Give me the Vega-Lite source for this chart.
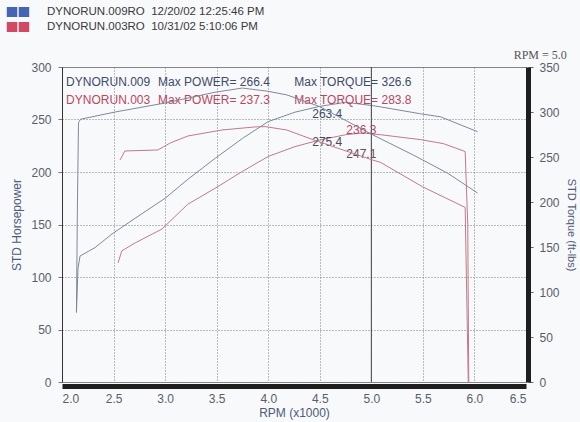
{
  "$schema": "https://vega.github.io/schema/vega-lite/v6.json",
  "width": 464,
  "height": 315,
  "autosize": {"type": "none"},
  "padding": {"left": 62, "top": 67, "right": 54, "bottom": 40},
  "background": "#f8f9fb",
  "config": {
    "font": "Liberation Sans",
    "view": {"stroke": "#8a8a8a", "strokeWidth": 1},
    "axis": {
      "labelFont": "Liberation Sans",
      "labelFontSize": 12,
      "labelColor": "#585e6a",
      "titleFont": "Liberation Sans",
      "titleFontWeight": "normal",
      "titleColor": "#4d5a7a",
      "gridColor": "#7a7a7a",
      "gridDash": [1, 2],
      "gridWidth": 1
    }
  },
  "datasets": {
    "power": [
      {"run": "DYNORUN.009RO\u00a0\u00a012/20/02 12:25:46 PM", "rpm": 2.14, "hp": 66},
      {"run": "DYNORUN.009RO\u00a0\u00a012/20/02 12:25:46 PM", "rpm": 2.155, "hp": 108},
      {"run": "DYNORUN.009RO\u00a0\u00a012/20/02 12:25:46 PM", "rpm": 2.175, "hp": 120},
      {"run": "DYNORUN.009RO\u00a0\u00a012/20/02 12:25:46 PM", "rpm": 2.32, "hp": 128},
      {"run": "DYNORUN.009RO\u00a0\u00a012/20/02 12:25:46 PM", "rpm": 2.485, "hp": 141},
      {"run": "DYNORUN.009RO\u00a0\u00a012/20/02 12:25:46 PM", "rpm": 2.71, "hp": 156},
      {"run": "DYNORUN.009RO\u00a0\u00a012/20/02 12:25:46 PM", "rpm": 3.0, "hp": 175},
      {"run": "DYNORUN.009RO\u00a0\u00a012/20/02 12:25:46 PM", "rpm": 3.22, "hp": 193},
      {"run": "DYNORUN.009RO\u00a0\u00a012/20/02 12:25:46 PM", "rpm": 3.485, "hp": 213},
      {"run": "DYNORUN.009RO\u00a0\u00a012/20/02 12:25:46 PM", "rpm": 3.75, "hp": 232},
      {"run": "DYNORUN.009RO\u00a0\u00a012/20/02 12:25:46 PM", "rpm": 4.0, "hp": 248},
      {"run": "DYNORUN.009RO\u00a0\u00a012/20/02 12:25:46 PM", "rpm": 4.26, "hp": 257},
      {"run": "DYNORUN.009RO\u00a0\u00a012/20/02 12:25:46 PM", "rpm": 4.5, "hp": 262.5},
      {"run": "DYNORUN.009RO\u00a0\u00a012/20/02 12:25:46 PM", "rpm": 4.75, "hp": 266.4},
      {"run": "DYNORUN.009RO\u00a0\u00a012/20/02 12:25:46 PM", "rpm": 5.0, "hp": 263.4},
      {"run": "DYNORUN.009RO\u00a0\u00a012/20/02 12:25:46 PM", "rpm": 5.09, "hp": 262},
      {"run": "DYNORUN.009RO\u00a0\u00a012/20/02 12:25:46 PM", "rpm": 5.48, "hp": 255.4},
      {"run": "DYNORUN.009RO\u00a0\u00a012/20/02 12:25:46 PM", "rpm": 5.67, "hp": 252.6},
      {"run": "DYNORUN.009RO\u00a0\u00a012/20/02 12:25:46 PM", "rpm": 6.03, "hp": 238.4},
      {"run": "DYNORUN.003RO\u00a0\u00a010/31/02 5:10:06 PM", "rpm": 2.544, "hp": 113.5},
      {"run": "DYNORUN.003RO\u00a0\u00a010/31/02 5:10:06 PM", "rpm": 2.58, "hp": 124.9},
      {"run": "DYNORUN.003RO\u00a0\u00a010/31/02 5:10:06 PM", "rpm": 2.71, "hp": 132.5},
      {"run": "DYNORUN.003RO\u00a0\u00a010/31/02 5:10:06 PM", "rpm": 2.97, "hp": 145.7},
      {"run": "DYNORUN.003RO\u00a0\u00a010/31/02 5:10:06 PM", "rpm": 3.22, "hp": 169.3},
      {"run": "DYNORUN.003RO\u00a0\u00a010/31/02 5:10:06 PM", "rpm": 3.485, "hp": 184.5},
      {"run": "DYNORUN.003RO\u00a0\u00a010/31/02 5:10:06 PM", "rpm": 3.75, "hp": 200.6},
      {"run": "DYNORUN.003RO\u00a0\u00a010/31/02 5:10:06 PM", "rpm": 4.0, "hp": 214.8},
      {"run": "DYNORUN.003RO\u00a0\u00a010/31/02 5:10:06 PM", "rpm": 4.26, "hp": 224.2},
      {"run": "DYNORUN.003RO\u00a0\u00a010/31/02 5:10:06 PM", "rpm": 4.5, "hp": 230.5},
      {"run": "DYNORUN.003RO\u00a0\u00a010/31/02 5:10:06 PM", "rpm": 4.75, "hp": 235.5},
      {"run": "DYNORUN.003RO\u00a0\u00a010/31/02 5:10:06 PM", "rpm": 4.93, "hp": 237.3},
      {"run": "DYNORUN.003RO\u00a0\u00a010/31/02 5:10:06 PM", "rpm": 5.0, "hp": 236.3},
      {"run": "DYNORUN.003RO\u00a0\u00a010/31/02 5:10:06 PM", "rpm": 5.09, "hp": 235.5},
      {"run": "DYNORUN.003RO\u00a0\u00a010/31/02 5:10:06 PM", "rpm": 5.48, "hp": 230.8},
      {"run": "DYNORUN.003RO\u00a0\u00a010/31/02 5:10:06 PM", "rpm": 5.7, "hp": 227},
      {"run": "DYNORUN.003RO\u00a0\u00a010/31/02 5:10:06 PM", "rpm": 5.91, "hp": 219.5},
      {"run": "DYNORUN.003RO\u00a0\u00a010/31/02 5:10:06 PM", "rpm": 5.935, "hp": 150},
      {"run": "DYNORUN.003RO\u00a0\u00a010/31/02 5:10:06 PM", "rpm": 5.945, "hp": 0}
    ],
    "torque": [
      {"run": "DYNORUN.009RO\u00a0\u00a012/20/02 12:25:46 PM", "rpm": 2.14, "tq": 78},
      {"run": "DYNORUN.009RO\u00a0\u00a012/20/02 12:25:46 PM", "rpm": 2.15, "tq": 200},
      {"run": "DYNORUN.009RO\u00a0\u00a012/20/02 12:25:46 PM", "rpm": 2.16, "tq": 288},
      {"run": "DYNORUN.009RO\u00a0\u00a012/20/02 12:25:46 PM", "rpm": 2.18, "tq": 292},
      {"run": "DYNORUN.009RO\u00a0\u00a012/20/02 12:25:46 PM", "rpm": 2.515, "tq": 300},
      {"run": "DYNORUN.009RO\u00a0\u00a012/20/02 12:25:46 PM", "rpm": 3.0, "tq": 310},
      {"run": "DYNORUN.009RO\u00a0\u00a012/20/02 12:25:46 PM", "rpm": 3.485, "tq": 322},
      {"run": "DYNORUN.009RO\u00a0\u00a012/20/02 12:25:46 PM", "rpm": 3.75, "tq": 326.6},
      {"run": "DYNORUN.009RO\u00a0\u00a012/20/02 12:25:46 PM", "rpm": 4.0, "tq": 323},
      {"run": "DYNORUN.009RO\u00a0\u00a012/20/02 12:25:46 PM", "rpm": 4.18, "tq": 319},
      {"run": "DYNORUN.009RO\u00a0\u00a012/20/02 12:25:46 PM", "rpm": 4.5, "tq": 306},
      {"run": "DYNORUN.009RO\u00a0\u00a012/20/02 12:25:46 PM", "rpm": 5.0, "tq": 275.4},
      {"run": "DYNORUN.009RO\u00a0\u00a012/20/02 12:25:46 PM", "rpm": 5.41, "tq": 252},
      {"run": "DYNORUN.009RO\u00a0\u00a012/20/02 12:25:46 PM", "rpm": 5.74, "tq": 232},
      {"run": "DYNORUN.009RO\u00a0\u00a012/20/02 12:25:46 PM", "rpm": 6.03, "tq": 210},
      {"run": "DYNORUN.003RO\u00a0\u00a010/31/02 5:10:06 PM", "rpm": 2.563, "tq": 246.7},
      {"run": "DYNORUN.003RO\u00a0\u00a010/31/02 5:10:06 PM", "rpm": 2.61, "tq": 256.7},
      {"run": "DYNORUN.003RO\u00a0\u00a010/31/02 5:10:06 PM", "rpm": 2.93, "tq": 257.8},
      {"run": "DYNORUN.003RO\u00a0\u00a010/31/02 5:10:06 PM", "rpm": 3.05, "tq": 265.6},
      {"run": "DYNORUN.003RO\u00a0\u00a010/31/02 5:10:06 PM", "rpm": 3.22, "tq": 273.3},
      {"run": "DYNORUN.003RO\u00a0\u00a010/31/02 5:10:06 PM", "rpm": 3.55, "tq": 280},
      {"run": "DYNORUN.003RO\u00a0\u00a010/31/02 5:10:06 PM", "rpm": 3.87, "tq": 283.4},
      {"run": "DYNORUN.003RO\u00a0\u00a010/31/02 5:10:06 PM", "rpm": 3.97, "tq": 283.8},
      {"run": "DYNORUN.003RO\u00a0\u00a010/31/02 5:10:06 PM", "rpm": 4.18, "tq": 280},
      {"run": "DYNORUN.003RO\u00a0\u00a010/31/02 5:10:06 PM", "rpm": 4.44, "tq": 269},
      {"run": "DYNORUN.003RO\u00a0\u00a010/31/02 5:10:06 PM", "rpm": 5.0, "tq": 247.1},
      {"run": "DYNORUN.003RO\u00a0\u00a010/31/02 5:10:06 PM", "rpm": 5.09, "tq": 244},
      {"run": "DYNORUN.003RO\u00a0\u00a010/31/02 5:10:06 PM", "rpm": 5.5, "tq": 216.7},
      {"run": "DYNORUN.003RO\u00a0\u00a010/31/02 5:10:06 PM", "rpm": 5.91, "tq": 194},
      {"run": "DYNORUN.003RO\u00a0\u00a010/31/02 5:10:06 PM", "rpm": 5.94, "tq": 0}
    ],
    "notes": [
      {"label": "DYNORUN.009", "rpm": 2.04, "hp": 285.7, "run": "009", "kind": "head"},
      {"label": "Max POWER= 266.4", "rpm": 2.932, "hp": 285.7, "run": "009", "kind": "head"},
      {"label": "Max TORQUE= 326.6", "rpm": 4.252, "hp": 285.7, "run": "009", "kind": "head"},
      {"label": "DYNORUN.003", "rpm": 2.04, "hp": 269, "run": "003", "kind": "head"},
      {"label": "Max POWER= 237.3", "rpm": 2.932, "hp": 269, "run": "003", "kind": "head"},
      {"label": "Max TORQUE= 283.8", "rpm": 4.252, "hp": 269, "run": "003", "kind": "head"},
      {"label": "263.4", "rpm": 4.427, "hp": 255.4, "run": "009", "kind": "power"},
      {"label": "275.4", "rpm": 4.427, "hp": 229, "run": "009", "kind": "torque"},
      {"label": "236.3", "rpm": 4.757, "hp": 240.3, "run": "003", "kind": "power"},
      {"label": "247.1", "rpm": 4.757, "hp": 217.6, "run": "003", "kind": "torque"}
    ],
    "cursor": [
      {"rpm": 5.0}
    ],
    "cursorlabel": [
      {"label": "RPM = 5.0", "rpm": 6.38, "hp": 311.5}
    ]
  },
  "encoding": {
    "x": {
      "field": "rpm",
      "type": "quantitative",
      "scale": {"domain": [2, 6.5], "nice": false, "zero": false},
      "axis": {
        "title": "RPM (x1000)",
        "titleFontSize": 12,
        "titlePadding": 3,
        "values": [2, 2.5, 3, 3.5, 4, 4.5, 5, 5.5, 6, 6.5],
        "format": ".1f",
        "grid": true,
        "ticks": false,
        "labelPadding": 7,
        "offset": 4,
        "domainWidth": 5,
        "domainColor": "#1e1e1e"
      }
    }
  },
  "layer": [
    {
      "layer": [
        {
          "data": {"name": "power"},
          "mark": {"type": "line", "strokeWidth": 1},
          "encoding": {
            "y": {
              "field": "hp",
              "type": "quantitative",
              "scale": {"domain": [0, 300], "nice": false},
              "axis": {
                "orient": "left",
                "title": "STD Horsepower",
                "titleFontSize": 12,
                "titlePadding": 7,
                "values": [0, 50, 100, 150, 200, 250, 300],
                "grid": true,
                "tickSize": 4,
                "tickColor": "#777777",
                "labelPadding": 7,
                "domainColor": "#333333",
                "domainWidth": 1
              }
            },
            "color": {
              "field": "run",
              "type": "nominal",
              "scale": {
                "domain": ["DYNORUN.009RO\u00a0\u00a012/20/02 12:25:46 PM", "DYNORUN.003RO\u00a0\u00a010/31/02 5:10:06 PM"],
                "range": ["#7f889c", "#c07a8a"]
              },
              "legend": {
                "orient": "none",
                "legendX": -50,
                "legendY": -61,
                "title": null,
                "padding": 0,
                "symbolType": "M-1.87,-0.85H-0.12V0.85H-1.87Z M0.12,-0.85H1.87V0.85H0.12Z",
                "symbolSize": 144,
                "symbolStrokeWidth": 0,
                "labelFont": "Liberation Sans",
                "labelFontSize": 11.5,
                "labelColor": "#3a3a3a",
                "labelOffset": 23,
                "labelLimit": 400,
                "rowPadding": 3,
                "encode": {
                  "symbols": {
                    "update": {
                      "fill": {"signal": "indexof(datum.value, '009') >= 0 ? '#4565b2' : '#d04a63'"},
                      "stroke": {"value": "transparent"},
                      "opacity": {"value": 1}
                    }
                  }
                }
              }
            }
          }
        },
        {
          "data": {"name": "cursor"},
          "mark": {"type": "rule", "color": "#444444", "strokeWidth": 1},
          "encoding": {}
        },
        {
          "data": {"name": "notes"},
          "mark": {"type": "text", "align": "left", "baseline": "middle", "fontSize": 12, "font": "Liberation Sans"},
          "encoding": {
            "y": {"field": "hp", "type": "quantitative"},
            "text": {"field": "label"},
            "color": {
              "condition": [
                {"test": "datum.run === '003' && datum.kind === 'torque'", "value": "#6b4a5c"},
                {"test": "datum.run === '003'", "value": "#b8485f"},
                {"test": "datum.kind === 'torque'", "value": "#454b58"}
              ],
              "value": "#3e4a68"
            }
          }
        },
        {
          "data": {"name": "cursorlabel"},
          "mark": {"type": "text", "align": "left", "baseline": "middle", "fontSize": 12, "font": "Liberation Serif", "color": "#555555"},
          "encoding": {
            "y": {"field": "hp", "type": "quantitative"},
            "text": {"field": "label"}
          }
        }
      ]
    },
    {
      "data": {"name": "torque"},
      "mark": {"type": "line", "strokeWidth": 1},
      "encoding": {
        "y": {
          "field": "tq",
          "type": "quantitative",
          "scale": {"domain": [0, 350], "nice": false},
          "axis": {
            "orient": "right",
            "title": "STD Torque (ft-lbs)",
            "titleFontSize": 11,
            "titlePadding": 6,
            "values": [0, 50, 100, 150, 200, 250, 300, 350],
            "grid": false,
            "tickSize": 5,
            "tickColor": "#666666",
            "labelPadding": 6,
            "offset": 2,
            "domainWidth": 5,
            "domainColor": "#1e1e1e"
          }
        },
        "color": {
          "field": "run",
          "type": "nominal"
        }
      }
    }
  ],
  "resolve": {"scale": {"y": "independent"}}
}
